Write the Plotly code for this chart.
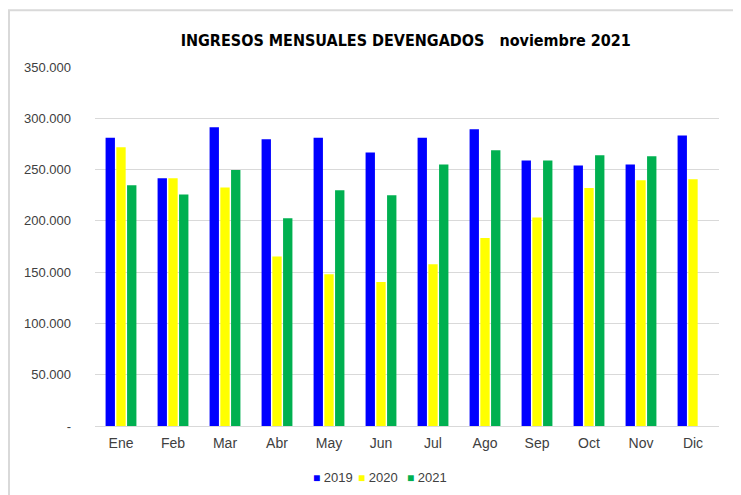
import plotly.graph_objects as go

# ─── Data ─────────────────────────────────────────────────────────────────────
MONTHS = ["Ene", "Feb", "Mar", "Abr", "May", "Jun",
          "Jul", "Ago", "Sep", "Oct", "Nov", "Dic"]

INGRESOS_2019 = [281000, 241600, 291300, 279600, 281000, 266600,
                 281000, 289300, 258800, 253900, 254900, 283200]
INGRESOS_2020 = [271800, 241600, 232500, 165300, 148000, 140300,
                 157800, 183400, 203300, 232100, 239600, 240600]
INGRESOS_2021 = [234800, 225700, 249700, 202600, 229900, 225000,
                 254900, 268800, 258800, 264000, 263000, None]

Y_TICKS = [0, 50000, 100000, 150000, 200000, 250000, 300000, 350000]
Y_TICK_TEXT = ["-", "50.000", "100.000", "150.000", "200.000",
               "250.000", "300.000", "350.000"]

SERIES = [
    ("2019", INGRESOS_2019, "#0000FF"),
    ("2020", INGRESOS_2020, "#FFFF00"),
    ("2021", INGRESOS_2021, "#00B050"),
]

FONT = "Liberation Sans, Arial, sans-serif"
TITLE_FONT = "DejaVu Sans Condensed, Liberation Sans, Arial, sans-serif"

# page body has an 8px margin, so the figure is a bit smaller than the window
W, H = 733, 487

fig = go.Figure()
for name, vals, color in SERIES:
    fig.add_trace(go.Bar(
        x=MONTHS, y=vals, name=name,
        marker=dict(color=color, line=dict(width=0)),
    ))

fig.update_layout(
    width=W, height=H,
    barmode="group", bargap=0.38, bargroupgap=0.13,
    margin=dict(l=87, r=22, t=59, b=69),
    paper_bgcolor="white", plot_bgcolor="white",
    font=dict(family=FONT, size=13, color="#404040"),
    title=dict(
        text="<b>INGRESOS MENSUALES DEVENGADOS   noviembre 2021</b>",
        x=0.498, xref="paper", xanchor="center",
        y=1 - 32 / H, yref="container", yanchor="middle",
        font=dict(family=TITLE_FONT, size=16, color="black"),
    ),
    showlegend=False,
    shapes=[
        dict(type="rect", xref="paper", yref="paper",
             x0=(1 - 87) / 624, x1=(729 - 87) / 624,
             y0=-0.3, y1=(418 - 2) / 359.3,
             line=dict(color="#D9D9D9", width=2), layer="below"),
    ],
)

# compact legend like the original: small square swatch + year
legend_x = [0.346, 0.4178, 0.4968]
for (name, _, color), lx in zip(SERIES, legend_x):
    fig.add_annotation(
        xref="paper", yref="paper", x=lx, y=-0.1447,
        xanchor="left", yanchor="middle", showarrow=False,
        text=f'<span style="color:{color};font-size:12px">■</span> {name}',
        font=dict(family=FONT, size=13, color="#404040"),
    )

fig.update_xaxes(
    showline=True, linecolor="#D9D9D9", linewidth=1,
    ticks="", tickfont=dict(family=FONT, size=14, color="#404040"),
    ticklabelstandoff=4, automargin=False,
)
fig.update_yaxes(
    range=[0, 350000], tickvals=Y_TICKS, ticktext=Y_TICK_TEXT,
    showgrid=True, gridcolor="#D9D9D9", gridwidth=1,
    zeroline=False, showline=False, ticks="",
    tickfont=dict(family=FONT, size=13, color="#404040"),
    ticklabelstandoff=23, automargin=False,
)

fig.write_html("out.html")
